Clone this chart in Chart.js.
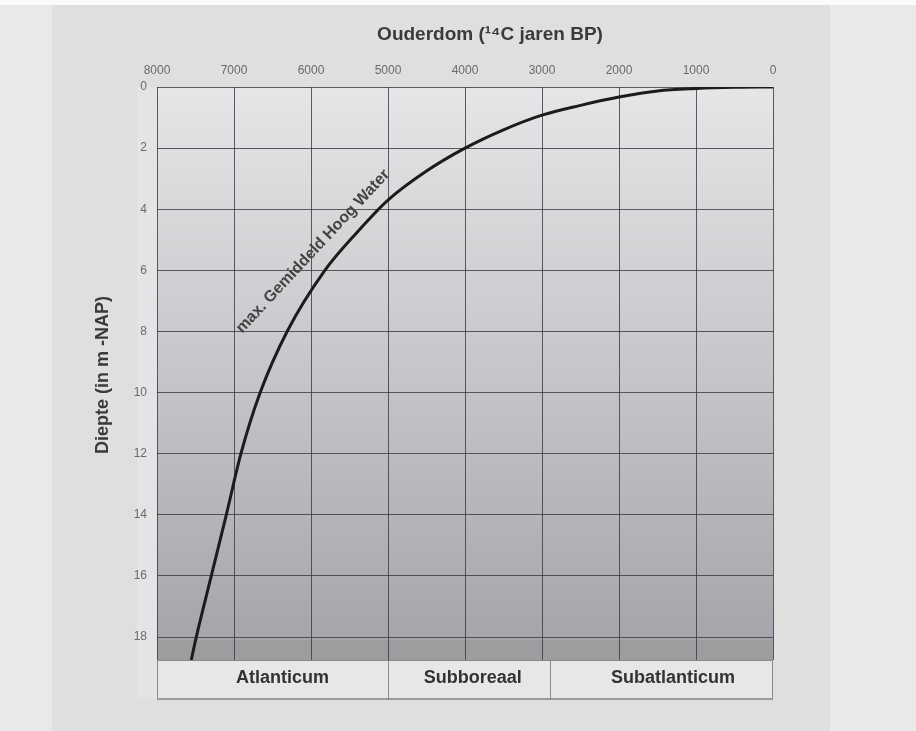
<!DOCTYPE html>
<html>
<head>
<meta charset="utf-8">
<script src="https://cdn.jsdelivr.net/npm/chart.js@4"></script>
<style>
  body { margin: 0; background: #e9e9eb; }
  canvas { display: block; }
</style>
</head>
<body>
<canvas id="zeeChart" width="916" height="731"></canvas>
<script>
// curve: age (14C years BP) against depth (m -NAP)
const years = [0, 500, 1000, 1500, 2000, 2500, 3000, 3500, 4000, 4500, 5000, 5400, 5820, 6310, 6660, 6910, 7100, 7295, 7490, 7555];
const depths = [0, 0.01, 0.05, 0.13, 0.33, 0.6, 0.92, 1.4, 2.0, 2.75, 3.7, 4.75, 6, 8, 10, 12, 14, 16, 18, 18.75];

const xTicks = [0, 1000, 2000, 3000, 4000, 5000, 6000, 7000, 8000];
const yTicks = [0, 2, 4, 6, 8, 10, 12, 14, 16, 18];

// periods along the bottom band
const periodNames = ["Atlanticum", "Subboreaal", "Subatlanticum"];
const periodBounds = [8000, 5000, 2900, 0];
const periodLabelAt = [6370, 3900, 1300];

const curveLabel = "max. Gemiddeld Hoog Water";
const curveLabelAt = { x: 5974, y: 5.38 };

let points = years.map((y, i) => ({ x: y, y: depths[i] }));

const decor = {
    id: "decor",
    beforeDraw(chart) {
        let c = chart.ctx;
        let a = chart.chartArea;
        let ys = chart.scales.y;
        c.save();
        c.fillStyle = "#fbfbfb";
        c.fillRect(0, 0, 916, 5);
        c.fillStyle = "#dfdfdf";
        c.fillRect(52, 5, 778, 726);
        // lighter column behind y labels
        c.fillStyle = "#e4e4e7";
        c.fillRect(a.left - 20, a.top, 20, 612);

        let g = c.createLinearGradient(0, a.top, 0, a.bottom);
        g.addColorStop(0, "#e6e6e8");
        g.addColorStop(0.5, "#c6c6ca");
        g.addColorStop(1, "#a2a2a8");
        c.fillStyle = g;
        c.fillRect(a.left, a.top, a.right - a.left, a.bottom - a.top);
        let s18 = ys.getPixelForValue(18.1);
        c.fillStyle = "#9d9d9f";
        c.fillRect(a.left, s18, a.right - a.left, a.bottom - s18);
        c.restore();
    },
    afterDraw(chart) {
        let c = chart.ctx;
        let a = chart.chartArea;
        let xs = chart.scales.x;
        let ys = chart.scales.y;
        c.save();

        // period band
        let top = a.bottom, bot = a.bottom + 38;
        c.fillStyle = "#e7e7e7";
        c.fillRect(a.left, top, a.right - a.left, bot - top);
        c.strokeStyle = "#8a8a8a";
        c.lineWidth = 1;
        c.strokeRect(a.left + 0.5, top + 0.5, a.right - a.left - 1, bot - top);
        c.strokeStyle = "#9a9a9a";
        c.lineWidth = 2;
        c.beginPath();
        c.moveTo(a.left, bot + 1);
        c.lineTo(a.right, bot + 1);
        c.stroke();
        c.strokeStyle = "#8a8a8a";
        c.lineWidth = 1;
        for (let i = 1; i < periodBounds.length - 1; i++) {
            let px = Math.round(xs.getPixelForValue(periodBounds[i])) + 0.5;
            c.beginPath();
            c.moveTo(px, top);
            c.lineTo(px, bot + 2);
            c.stroke();
        }
        c.fillStyle = "#333";
        c.font = "bold 18px 'Liberation Sans', Arial, sans-serif";
        c.textAlign = "center";
        c.textBaseline = "middle";
        periodNames.forEach((n, i) => {
            c.fillText(n, xs.getPixelForValue(periodLabelAt[i]), top + 18);
        });

        // axis titles
        c.font = "bold 19px 'Liberation Sans', Arial, sans-serif";
        c.fillStyle = "#3a3a3a";
        c.fillText("Ouderdom (¹⁴C jaren BP)", 490, 35);
        c.save();
        c.translate(103, 375);
        c.rotate(-Math.PI / 2);
        c.font = "bold 18px 'Liberation Sans', Arial, sans-serif";
        c.fillText("Diepte (in m -NAP)", 0, 0);
        c.restore();

        // label along the curve
        c.save();
        c.translate(xs.getPixelForValue(curveLabelAt.x), ys.getPixelForValue(curveLabelAt.y));
        c.rotate(-47 * Math.PI / 180);
        c.font = "bold 16px 'Liberation Sans', Arial, sans-serif";
        c.fillStyle = "#444";
        c.fillText(curveLabel, 0, 0);
        c.restore();

        c.restore();
    }
};

new Chart(document.getElementById("zeeChart"), {
    type: "line",
    data: {
        datasets: [{
            data: points,
            borderColor: "#1c1c1c",
            borderWidth: 3,
            pointRadius: 0,
            fill: false,
            cubicInterpolationMode: "monotone"
        }]
    },
    options: {
        responsive: false,
        animation: false,
        events: [],
        layout: { padding: { left: 107, top: 57, right: 143, bottom: 71 } },
        plugins: { legend: { display: false }, tooltip: { enabled: false } },
        scales: {
            x: {
                type: "linear",
                position: "top",
                reverse: true,
                min: 0,
                max: 8000,
                afterBuildTicks: s => { s.ticks = xTicks.map(v => ({ value: v })); },
                afterFit: s => { s.height = 30; },
                grid: { color: "rgba(55,55,60,0.8)", lineWidth: 1, drawTicks: false },
                border: { display: false },
                ticks: {
                    padding: 9,
                    maxRotation: 0,
                    autoSkip: false,
                    color: "#6a6a6a",
                    callback: v => String(v),
                    font: { size: 12, family: "'Liberation Sans', Arial, sans-serif" }
                }
            },
            y: {
                type: "linear",
                reverse: true,
                min: 0,
                max: 18.75,
                afterBuildTicks: s => { s.ticks = yTicks.map(v => ({ value: v })); },
                afterFit: s => { s.width = 50; },
                grid: { color: "rgba(55,55,60,0.8)", lineWidth: 1, drawTicks: false },
                border: { display: false },
                ticks: {
                    padding: 10,
                    autoSkip: false,
                    color: "#6a6a6a",
                    callback: v => String(v),
                    font: { size: 12, family: "'Liberation Sans', Arial, sans-serif" }
                }
            }
        }
    },
    plugins: [decor]
});
</script>
</body>
</html>
